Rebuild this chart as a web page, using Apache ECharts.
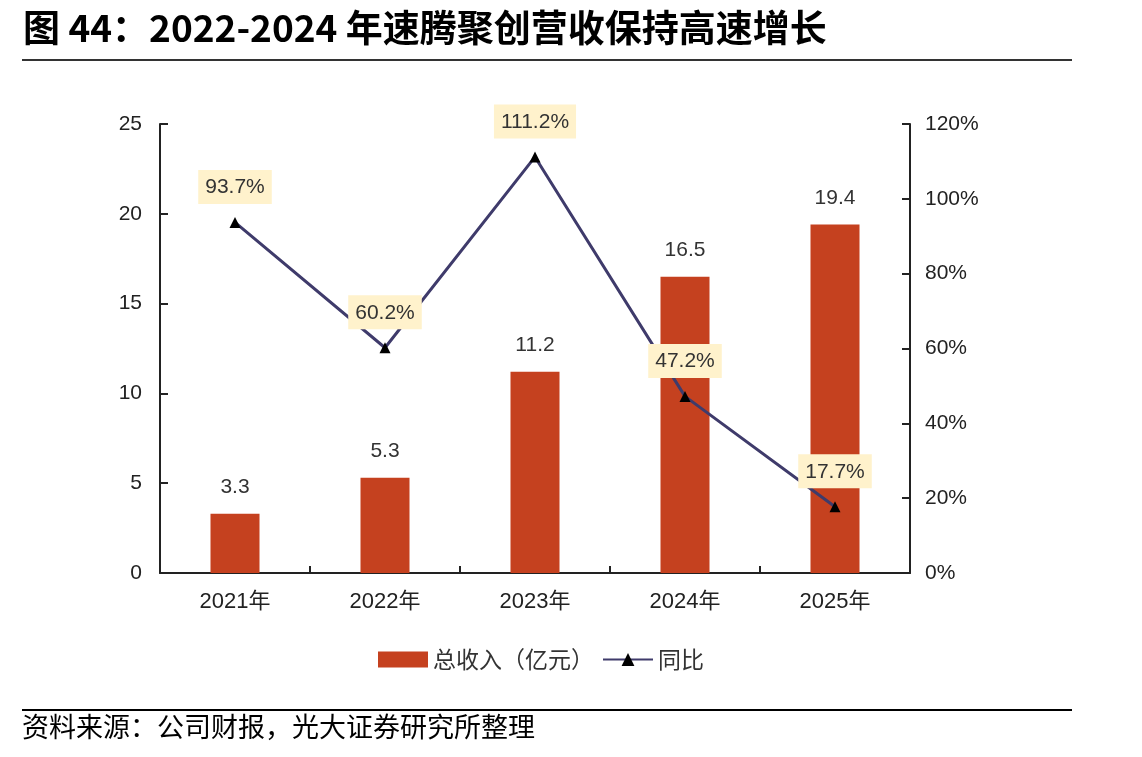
<!DOCTYPE html>
<html>
<head>
<meta charset="utf-8">
<script src="https://cdn.jsdelivr.net/npm/echarts@6/dist/echarts.min.js"></script>
<style>
  html, body { margin: 0; padding: 0; background: #fff; }
  #main { width: 1142px; height: 757px; }
</style>
</head>
<body>
<div id="main"></div>
<script>
// 数据
var years = ['2021年', '2022年', '2023年', '2024年', '2025年'];
var revenue = [3.3, 5.3, 11.2, 16.5, 19.4];      // 总收入（亿元）
var yoy = [93.7, 60.2, 111.2, 47.2, 17.7];       // 同比 %
var leftTicks = [0, 25, 5];
var rightTicks = [0, 120, 20];

var FONT = '"Liberation Sans", "Noto Sans CJK SC", sans-serif';
var chart = echarts.init(document.getElementById('main'));

var option = {
    backgroundColor: '#fff',
    animation: false,
    title: {
        text: '图 44：2022-2024 年速腾聚创营收保持高速增长',
        left: 18,
        top: 4,
        textStyle: {
            fontFamily: '"Noto Sans CJK SC", sans-serif',
            fontSize: 37,
            fontWeight: 'bold',
            color: '#000'
        }
    },
    graphic: [
        // 标题下方横线
        { type: 'line', shape: { x1: 22, y1: 60, x2: 1072, y2: 60 }, style: { stroke: '#333', lineWidth: 2 } },
        // 底部横线
        { type: 'line', shape: { x1: 22, y1: 710, x2: 1072, y2: 710 }, style: { stroke: '#000', lineWidth: 2 } },
        {
            type: 'text', left: 22, top: 713,
            style: {
                text: '资料来源：公司财报，光大证券研究所整理',
                fontFamily: '"Noto Sans CJK SC", sans-serif',
                fontSize: 27, fill: '#000'
            }
        }
    ],
    legend: {
        left: 378,
        top: 648,
        padding: 0,
        itemWidth: 50,
        itemHeight: 16,
        itemGap: 8,
        textStyle: { fontFamily: '"Noto Sans CJK SC", sans-serif', fontSize: 23, color: '#333' },
        data: [{ name: '总收入（亿元）', icon: 'rect' }, '同比']
    },
    grid: { left: 160, right: 232, top: 124, bottom: 184 },
    xAxis: {
        type: 'category',
        data: years,
        axisLine: { lineStyle: { color: '#222', width: 2 } },
        axisTick: { show: true, inside: true, length: 7, lineStyle: { color: '#222', width: 2 } },
        axisLabel: { fontFamily: FONT, fontSize: 22, color: '#222', margin: 18 }
    },
    yAxis: [{
        type: 'value',
        min: leftTicks[0], max: leftTicks[1], interval: leftTicks[2],
        splitLine: { show: false },
        axisLine: { show: true, lineStyle: { color: '#222', width: 2 } },
        axisTick: { show: true, inside: true, length: 8, lineStyle: { color: '#222', width: 2 } },
        axisLabel: { fontFamily: FONT, fontSize: 21, color: '#222', margin: 18 }
    }, {
        type: 'value',
        position: 'right',
        min: rightTicks[0], max: rightTicks[1], interval: rightTicks[2],
        splitLine: { show: false },
        axisLine: { show: true, lineStyle: { color: '#222', width: 2 } },
        axisTick: { show: true, inside: true, length: 8, lineStyle: { color: '#222', width: 2 } },
        axisLabel: { fontFamily: FONT, fontSize: 21, color: '#222', margin: 15, formatter: '{value}%' }
    }],
    series: [{
        name: '总收入（亿元）',
        type: 'bar',
        data: revenue,
        barWidth: 49,
        itemStyle: { color: '#C5411F' },
        label: {
            show: true, position: 'top', distance: 16,
            fontFamily: FONT, fontSize: 21, color: '#333',
            formatter: function (p) { return p.value.toFixed(1); }
        },
        z: 2
    }, {
        name: '同比',
        type: 'line',
        yAxisIndex: 1,
        data: yoy,
        symbol: 'triangle',
        symbolSize: 11,
        lineStyle: { color: '#3F3B6B', width: 3 },
        itemStyle: { color: '#000' },
        label: {
            show: true, position: 'top', distance: 13,
            fontFamily: FONT, fontSize: 21, color: '#333',
            backgroundColor: '#FFF2CC',
            padding: [7, 7, 6, 7],
            formatter: function (p) { return p.value.toFixed(1) + '%'; }
        },
        z: 3
    }]
};
chart.setOption(option);
</script>
</body>
</html>
